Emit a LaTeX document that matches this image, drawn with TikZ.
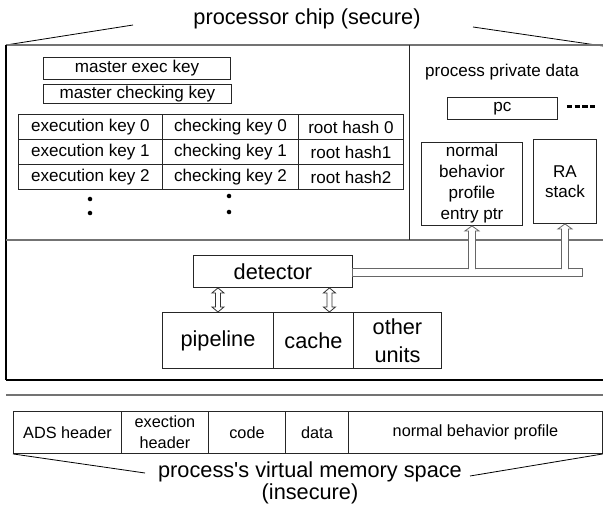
\documentclass[tikz,border=0pt]{standalone}
\usepackage{fontspec}
\setmainfont{Liberation Sans}
\usetikzlibrary{calc}
\newcommand\FontBig{\fontsize{16.3}{21}\selectfont}
\newcommand\FontMed{\fontsize{12.8}{15.6}\selectfont}
\newcommand\FontSmall{\fontsize{12.2}{15.7}\selectfont}
\begin{document}
\begin{tikzpicture}[x=0.75pt,y=-0.75pt,
  sz/.style 2 args={minimum width={#1*0.75pt}, minimum height={#2*0.75pt}},
  box/.style={draw=black!85, line width=0.7pt, inner sep=0pt, anchor=north west},
  frame/.style={line width=0.9pt, black},
  gframe/.style={line width=0.9pt, black!55},
  pipe/.style={draw=black!60, fill=white, line width=0.6pt},
  harrow/.style={draw=black!80, fill=white, line width=0.6pt},
  dashes/.style={line width=2.2pt, dash pattern=on 4pt off 1.8pt},
  lbl/.style={inner sep=0pt}]
\useasboundingbox (0,0) rectangle (603,510);

% title and chip frame
\node[lbl, font=\FontBig] (title) at (307,19) {processor chip (secure)};
\draw[line width=0.6pt] (6,45) -- (133,25);
\draw[line width=0.6pt] (473,27) -- (603,46);
\draw[gframe] (6,45) -- (603,45);
\draw[frame] (6,45) -- (6,380);
\draw[gframe] (6,240) -- (603,240);
\draw[frame] (6,380) -- (603,380);
\draw[line width=0.6pt, black!85] (409,45) -- (409,240);
\draw[gframe] (6,395) -- (603,395);

% keys
\node[box, sz={187}{22}, font=\FontMed] (mexec) at (43,57) {master exec key};
\node[box, sz={188}{19}, font=\FontMed] (mcheck) at (43,84) {master checking key};

\node[box, sz={144}{25}, font=\FontMed] (ek0) at (18,114) {execution key 0};
\node[box, sz={136}{25}, font=\FontMed] (ck0) at (162,114) {checking key 0};
\node[box, sz={105}{25}, font=\FontMed] (rh0) at (298,114) {root hash 0};
\node[box, sz={144}{25}, font=\FontMed] (ek1) at (18,139) {execution key 1};
\node[box, sz={136}{25}, font=\FontMed] (ck1) at (162,139) {checking key 1};
\node[box, sz={105}{25}, font=\FontMed] (rh1) at (298,139) {root hash1};
\node[box, sz={144}{25}, font=\FontMed] (ek2) at (18,164) {execution key 2};
\node[box, sz={136}{25}, font=\FontMed] (ck2) at (162,164) {checking key 2};
\node[box, sz={105}{25}, font=\FontMed] (rh2) at (298,164) {root hash2};

\fill (90,199) circle[radius=1.7pt];
\fill (90,213) circle[radius=1.7pt];
\fill (229,196) circle[radius=1.7pt];
\fill (229,212) circle[radius=1.7pt];

% process private data
\node[lbl, font=\FontMed] (ppd) at (502,72) {process private data};
\node[box, sz={110}{22}, font=\FontMed] (pc) at (447,97) {pc};
\coordinate (dsA) at ($(pc.east)+(9,-2)$);
\coordinate (dsB) at ($(pc.east)+(38,-2)$);
\draw[dashes] (dsA) -- (dsB);
\node[box, sz={101}{83}, align=center, font=\fontsize{12.8}{15.8}\selectfont] (nbp) at (421,142) {normal\\behavior\\profile\\entry ptr};
\node[box, sz={63}{84}, align=center, font=\fontsize{12.8}{15}\selectfont] (ra) at (533,139) {RA\\stack};

% detector and bus
\node[box, sz={159}{32}, font=\FontBig] (det) at (193,255) {detector};
\node[draw=black!60, fill=white, line width=0.6pt, inner sep=0pt, anchor=north west, sz={230}{8}] (bus) at (352,268) {};
\foreach \t in {nbp,ra}{
  \draw[pipe] ($(\t.south |- bus.north)+(-3.5,1)$) -- ($(\t.south)+(-3.5,5)$)
    -- ($(\t.south)+(-7,5)$) -- (\t.south) -- ($(\t.south)+(7,5)$)
    -- ($(\t.south)+(3.5,5)$) -- ($(\t.south |- bus.north)+(3.5,1)$);
}

% units
\node[box, sz={111}{56}, font=\FontBig] (pipeline) at (162,312) {pipeline};
\node[box, sz={80}{56}, font=\FontBig] (cache) at (273,312) {cache};
\node[box, sz={88}{56}, align=center, font=\FontBig] (other) at (353,312) {other\\units};

\coordinate (b1) at (pipeline.north);
\coordinate (t1) at (b1 |- det.south);
\coordinate (b2) at ($(cache.north)+(16,0)$);
\coordinate (t2) at (b2 |- det.south);
\foreach \i in {1,2}{
  \draw[harrow] (t\i) -- ($(t\i)+(6,5)$) -- ($(t\i)+(2.5,5)$) -- ($(b\i)+(2.5,-5)$)
    -- ($(b\i)+(6,-5)$) -- (b\i) -- ($(b\i)+(-6,-5)$) -- ($(b\i)+(-2.5,-5)$)
    -- ($(t\i)+(-2.5,5)$) -- ($(t\i)+(-6,5)$) -- cycle;
}

% memory space
\node[box, sz={108}{42}, font=\FontSmall] (ads) at (13,411) {ADS header};
\node[box, sz={87}{42}, align=center, font=\FontSmall] (exh) at (121,411) {exection\\header};
\node[box, sz={77}{42}, font=\FontSmall] (code) at (208,411) {code};
\node[box, sz={63}{42}, font=\FontSmall] (data) at (285,411) {data};
\node[box, sz={254}{42}, font=\FontSmall] (nbpm) at (348,411) {normal behavior profile};

\node[lbl, align=center, font=\fontsize{16.3}{16.5}\selectfont] (vm) at (310,483) {process\textquotesingle s virtual memory space\\(insecure)};
\draw[line width=0.6pt] (ads.south west) -- (145,473);
\draw[line width=0.6pt] (470,476) -- (nbpm.south east);
\end{tikzpicture}
\end{document}
